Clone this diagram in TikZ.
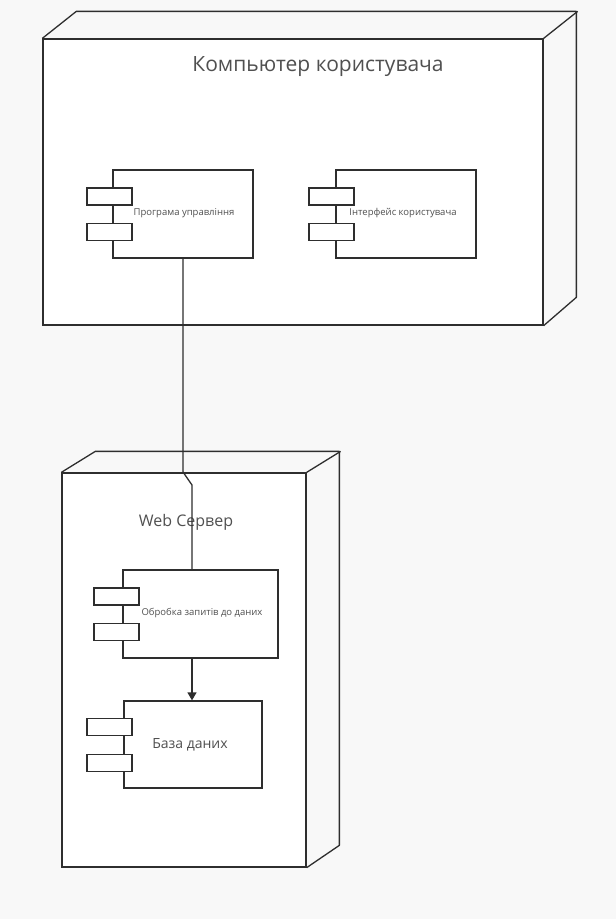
\documentclass[tikz,border=0pt]{standalone}
\usepackage{fontspec}
\setmainfont{Open Sans}
\usetikzlibrary{arrows.meta}
\definecolor{bg}{HTML}{F8F8F8}
\definecolor{ln}{HTML}{2E2E2E}
\definecolor{tx}{HTML}{505050}
\begin{document}
\begin{tikzpicture}[x=1pt,y=-1pt,
  edge/.style={draw=ln, line width=1.3pt, line join=round},
  face/.style={draw=ln, line width=1.3pt, fill=white, rectangle, inner sep=0pt},
  body/.style={draw=ln, line width=1.3pt, fill=white, rectangle, inner sep=0pt},
  tab/.style={draw=ln, line width=1.3pt, fill=white, rectangle, inner sep=0pt, minimum width=45pt, minimum height=17pt},
  small/.style={text=tx, font=\fontsize{9.5}{11}\selectfont},
  big/.style={text=tx, font=\fontsize{21}{25}\selectfont}
]
\fill[bg] (0,0) rectangle (616,919);
\useasboundingbox (0,0) rectangle (616,919);

% ---------- user computer node ----------
\node[face, minimum width=500pt, minimum height=286pt] (pc) at (293,182) {};
\draw[edge] (pc.north west) -- ++(34,-27) -- ++(500,0) -- ++(0,286) -- (pc.south east);
\draw[edge] (pc.north east) -- ++(34,-27);
\node[big] (pctitle) at (318,67) {Компьютер користувача};

% component 1
\node[body, minimum width=140pt, minimum height=88pt] (c1) at (183,214) {};
\node[tab] (c1a) at (109.5,196.5) {};
\node[tab] (c1b) at (109.5,232) {};
\node[small] (c1t) at (184,213) {Програма управління};

% component 2
\node[body, minimum width=140pt, minimum height=88pt] (c2) at (406,214) {};
\node[tab] (c2a) at (331.5,196.5) {};
\node[tab] (c2b) at (331.5,232) {};
\node[small] (c2t) at (403,213) {Інтерфейс користувача};

% ---------- web server node ----------
\node[face, minimum width=244pt, minimum height=394pt] (ws) at (184,670) {};
\draw[edge] (ws.north west) -- ++(34,-21) -- ++(244,0) -- ++(0,394) -- (ws.south east);
\draw[edge] (ws.north east) -- ++(34,-21);
\node[text=tx, font=\fontsize{16}{19}\selectfont] (wstitle) at (186,522) {Web Сервер};

% component 3
\node[body, minimum width=155pt, minimum height=88pt] (c3) at (200.5,614) {};
\node[tab] (c3a) at (116.5,596.5) {};
\node[tab] (c3b) at (116.5,632) {};
\node[small] (c3t) at (202,613) {Обробка запитів до даних};

% component 4
\node[body, minimum width=138pt, minimum height=87pt] (c4) at (193,744.5) {};
\node[tab] (c4a) at (109.5,727) {};
\node[tab] (c4b) at (109.5,763) {};
\node[text=tx, font=\fontsize{14}{17}\selectfont] (c4t) at (190,745) {База даних};

% ---------- connectors ----------
\coordinate (j1) at (183,472);
\coordinate (j2) at (192,485);
\draw[edge] (c1.south) -- (j1) -- (j2) -- (j2 |- c3.north);
\draw[edge, -{Triangle[length=8pt,width=9pt]}] (j2 |- c3.south) -- (j2 |- c4.north);
\end{tikzpicture}
\end{document}
